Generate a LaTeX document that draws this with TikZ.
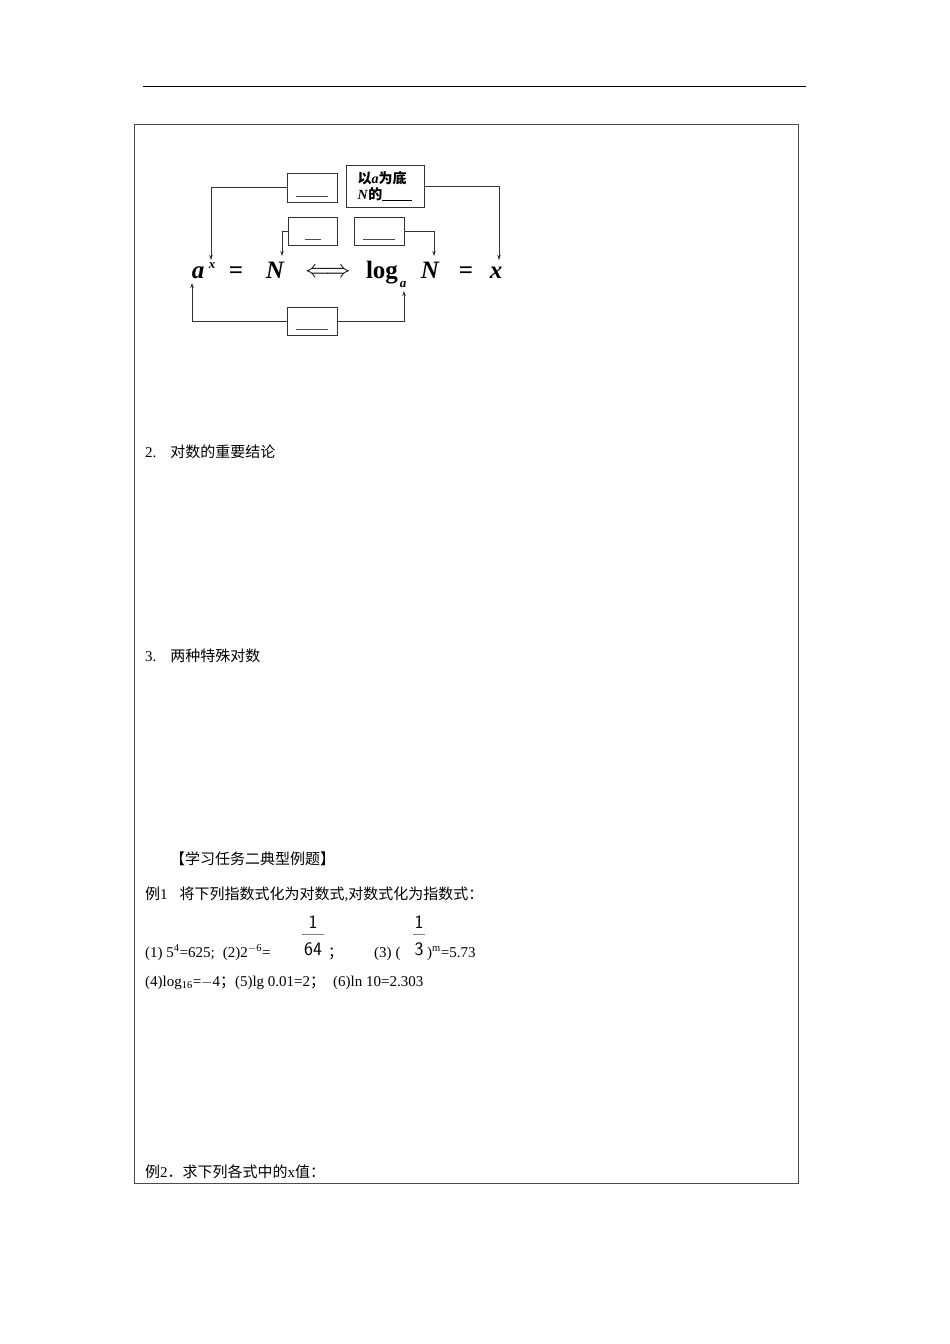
\documentclass[tikz,border=0pt]{standalone}
\usepackage{fontspec}
\setmainfont{Liberation Serif}
\newfontfamily\cjk{Noto Sans CJK SC}
\usetikzlibrary{arrows.meta}
\begin{document}
\begin{tikzpicture}[x=1pt,y=-1pt,
  bx/.style={draw=black!80,line width=0.8pt},
  arr/.style={draw=black!80,line width=0.7pt,-{Stealth[length=5pt,width=3.5pt]}},
  fm/.style={font=\fontsize{25}{25}\selectfont\bfseries\itshape,anchor=base},
  fu/.style={font=\fontsize{25}{25}\selectfont\bfseries,anchor=base},
  tx/.style={font=\fontsize{15}{17}\selectfont,anchor=base west,inner sep=0pt}]
\useasboundingbox (0,0) rectangle (950,1344);
\draw[line width=1pt] (143,86) -- (806,86);
\draw[line width=0.6pt,black!70] (134,124) rectangle (798,1183);
% boxes
\node[bx,minimum width=50pt,minimum height=29pt,inner sep=0pt] (A) at (312,187.5) {};
\node[bx,minimum width=78pt,minimum height=42pt,inner sep=0pt,align=left,font=\fontsize{14}{16}\selectfont\bfseries] (B) at (385,186) {{\cjk 以}\textit{a}{\cjk 为底}\\\textit{N}{\cjk 的}\underline{\hspace{30pt}}};
\node[bx,minimum width=49pt,minimum height=28pt,inner sep=0pt] (C) at (312.5,231) {};
\node[bx,minimum width=50pt,minimum height=28pt,inner sep=0pt] (D) at (379,231) {};
\node[bx,minimum width=50pt,minimum height=28pt,inner sep=0pt] (E) at (312,321) {};
\foreach \n/\w in {A/16,C/8,D/16,E/16}{\draw[black!70,line width=0.7pt] ([xshift=-\w pt,yshift=6pt]\n.south) -- ([xshift=\w pt,yshift=6pt]\n.south);}
% formula
\node[fm] (ax) at (198,278) {a};
\node[font=\fontsize{13}{13}\selectfont\bfseries\itshape,anchor=base] (sx) at (212,268) {x};
\node[fu] (e1) at (236,278) {=};
\node[fm] (N1) at (275,278) {N};
\node[font=\fontsize{24}{24}\selectfont,anchor=base] (iff) at (328,277) {$\Longleftrightarrow$};
\node[fu] (log) at (382,278) {log};
\node[font=\fontsize{13}{13}\selectfont\bfseries\itshape,anchor=base] (sa) at (403,287) {a};
\node[fm] (N2) at (430,278) {N};
\node[fu] (e2) at (466,278) {=};
\node[fm] (x2) at (496,278) {x};
\coordinate (ta) at (211,260); \coordinate (tx) at (499,260);
\coordinate (tn) at (282,256); \coordinate (tn2) at (434,256);
\coordinate (ba) at (192,283); \coordinate (bl) at (404,291);
\draw[arr] (A.west) -| (ta);
\draw[arr] (B.east) -| (tx);
\draw[arr] (C.west) -| (tn);
\draw[arr] (D.east) -| (tn2);
\draw[arr] (E.west) -| (ba);
\draw[arr] (E.east) -| (bl);
% text
\node[tx] (t2) at (145,457) {2.\hspace{14pt}{\cjk 对数的重要结论}};
\node[tx] (t3) at (145,661) {3.\hspace{14pt}{\cjk 两种特殊对数}};
\node[tx] (t4) at (170,864) {\cjk 【学习任务二典型例题】};
\node[tx] (t5) at (145,899) {{\cjk 例}1\hspace{12pt}{\cjk 将下列指数式化为对数式},{\cjk 对数式化为指数式：}};
\node[tx] (l1) at (145,957) {(1) 5\textsuperscript{4}=625;\hspace{8pt}(2)2\textsuperscript{$-$6}=};
\node[font=\fontsize{19}{19}\selectfont\sffamily,anchor=base] (f1) at (313,928) {1};
\draw[gray,line width=0.6pt] (302,934) -- (324,934);
\node[font=\fontsize{19}{19}\selectfont\sffamily,anchor=base] (f2) at (313,955) {64};
\node[tx] (sc) at (328,957) {\cjk ；};
\node[tx] (l3) at (374,957) {(3)\hspace{4pt}(};
\node[font=\fontsize{19}{19}\selectfont\sffamily,anchor=base] (f3) at (419,928) {1};
\draw[gray,line width=0.6pt] (413,934) -- (425,934);
\node[font=\fontsize{19}{19}\selectfont\sffamily,anchor=base] (f4) at (419,955) {3};
\node[tx] (l3b) at (427,957) {)\textsuperscript{m}=5.73};
\node[tx] (l4) at (145,986) {(4)log\textsubscript{16}=$-$4{\cjk ；}(5)lg 0.01=2{\cjk ；}\hspace{8pt}(6)ln 10=2.303};
\node[tx] (t6) at (145,1177) {{\cjk 例}2{\cjk ．求下列各式中的}x{\cjk 值：}};
\end{tikzpicture}
\end{document}
